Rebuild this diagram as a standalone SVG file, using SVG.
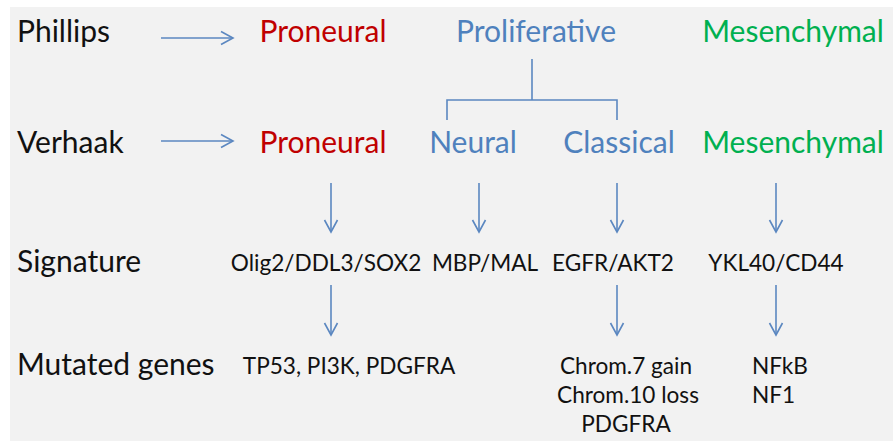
<svg xmlns="http://www.w3.org/2000/svg" width="893" height="441" viewBox="0 0 893 441">
  <style>
    text { font-family: Lato, "Liberation Sans", sans-serif; }
    .big { font-size: 30px; }
    .small { font-size: 22.6px; }
    .lbl { fill: #111111; }
    .red { fill: #c00000; }
    .blue { fill: #4f81bd; }
    .green { fill: #00b050; }
    .mid { text-anchor: middle; }
    .conn { stroke: #5b87c0; stroke-width: 1.6; fill: none; }
  </style>
  <defs>
    <marker id="head" markerUnits="userSpaceOnUse" markerWidth="16" markerHeight="16" viewBox="-14 -8 16 16" refX="0" refY="0" orient="auto">
      <path d="M-12,-6.5 L0,0 L-12,6.5" fill="none" stroke="#5b87c0" stroke-width="1.6"/>
    </marker>
  </defs>

  <rect x="0" y="0" width="893" height="441" fill="#ffffff"/>
  <rect x="10" y="7" width="883" height="434" fill="#f2f2f2"/>

  <!-- row labels -->
  <g id="label-phillips"><text class="big lbl" x="17" y="42">Phillips</text></g>
  <g id="label-verhaak"><text class="big lbl" x="17" y="153">Verhaak</text></g>
  <g id="label-signature"><text class="big lbl" x="17" y="272">Signature</text></g>
  <g id="label-mutated"><text class="big lbl" x="17" y="375">Mutated genes</text></g>

  <!-- Phillips subtypes -->
  <g id="phillips-proneural"><text class="big red mid" x="323" y="42">Proneural</text></g>
  <g id="phillips-proliferative"><text class="big blue mid" x="536" y="42">Proliferative</text></g>
  <g id="phillips-mesenchymal"><text class="big green mid" x="793" y="42">Mesenchymal</text></g>

  <!-- Verhaak subtypes -->
  <g id="verhaak-proneural"><text class="big red mid" x="323" y="153">Proneural</text></g>
  <g id="verhaak-neural"><text class="big blue mid" x="473" y="153">Neural</text></g>
  <g id="verhaak-classical"><text class="big blue mid" x="619" y="153">Classical</text></g>
  <g id="verhaak-mesenchymal"><text class="big green mid" x="793" y="153">Mesenchymal</text></g>

  <!-- signatures -->
  <g id="sig-proneural"><text class="small lbl mid" x="326" y="271">Olig2/DDL3/SOX2</text></g>
  <g id="sig-neural"><text class="small lbl mid" x="485" y="271">MBP/MAL</text></g>
  <g id="sig-classical"><text class="small lbl mid" x="613" y="271">EGFR/AKT2</text></g>
  <g id="sig-mesenchymal"><text class="small lbl mid" x="776" y="271">YKL40/CD44</text></g>

  <!-- mutated genes -->
  <g id="mut-proneural"><text class="small lbl mid" x="349" y="374">TP53, PI3K, PDGFRA</text></g>
  <g id="mut-classical">
    <text class="small lbl mid" x="626" y="374">Chrom.7 gain</text>
    <text class="small lbl mid" x="628" y="403">Chrom.10 loss</text>
    <text class="small lbl mid" x="626" y="432">PDGFRA</text>
  </g>
  <g id="mut-mesenchymal">
    <text class="small lbl" x="752" y="374">NFkB</text>
    <text class="small lbl" x="752" y="403">NF1</text>
  </g>

  <!-- connectors -->
  <g id="connectors" class="conn">
    <line x1="161" y1="38" x2="233" y2="38" marker-end="url(#head)"/>
    <line x1="161" y1="141" x2="233" y2="141" marker-end="url(#head)"/>
    <polyline points="532,59 532,100"/>
    <polyline points="447,120 447,100 617,100 617,120"/>
    <line x1="331" y1="183" x2="331" y2="232" marker-end="url(#head)"/>
    <line x1="479" y1="183" x2="479" y2="232" marker-end="url(#head)"/>
    <line x1="617" y1="183" x2="617" y2="232" marker-end="url(#head)"/>
    <line x1="776" y1="183" x2="776" y2="232" marker-end="url(#head)"/>
    <line x1="331" y1="285" x2="331" y2="335" marker-end="url(#head)"/>
    <line x1="617" y1="285" x2="617" y2="335" marker-end="url(#head)"/>
    <line x1="776" y1="285" x2="776" y2="335" marker-end="url(#head)"/>
  </g>
</svg>
